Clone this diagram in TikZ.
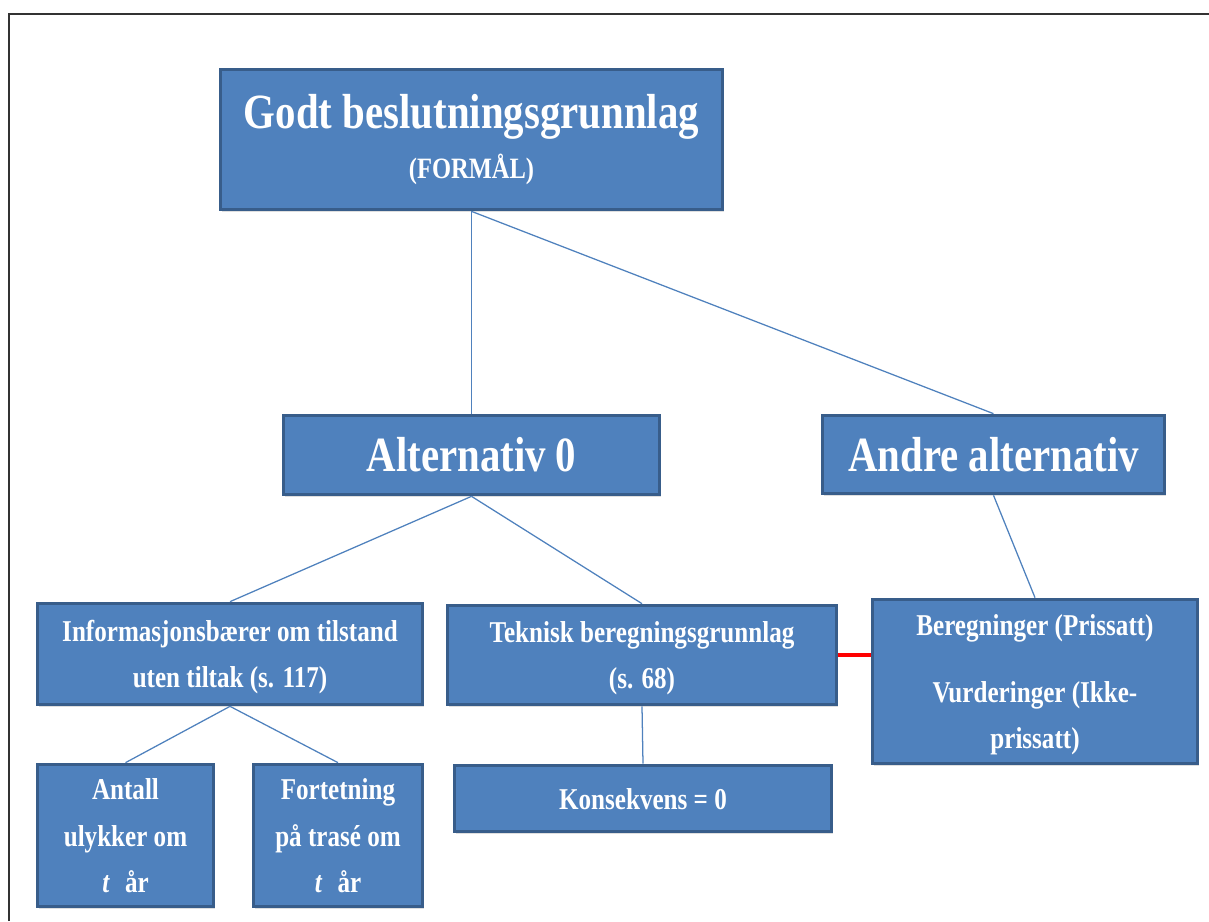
\documentclass[tikz,border=0pt]{standalone}
\usepackage{fontspec}
\setmainfont{Liberation Serif}[FakeStretch=0.83]
\usetikzlibrary{positioning,shadows}
\definecolor{boxblue}{HTML}{4F81BD}
\definecolor{boxedge}{HTML}{385D8A}

\begin{document}
\begin{tikzpicture}[x=0.025cm, y=-0.025cm,
    block/.style={rectangle, draw=boxedge, line width=2.6pt, fill=boxblue, text=white, align=center, inner sep=0pt,
        drop shadow={shadow xshift=1pt, shadow yshift=-2pt, opacity=0.25},
        font=\bfseries\fontsize{35}{42}\selectfont},
    subblock/.style={block, text depth=0pt, font=\bfseries\fontsize{21.5}{33}\selectfont},
    link/.style={draw=boxblue, line width=0.9pt},
    redlink/.style={draw=red, line width=3pt}
]
    \useasboundingbox (0,0) rectangle (1209,921);
    \draw[black!80, line width=1.3pt] (9,921) -- (9,14) -- (1209,14);

    % hovedbokser
    \node [block, minimum width=12.55cm, minimum height=3.5cm] (goal) at (471.5,139.5)
        {Godt beslutningsgrunnlag\\[-6pt]{\fontsize{21}{25}\selectfont (FORMÅL)}};
    \node [block, minimum width=9.4cm, minimum height=1.975cm] (alt0) at (471.5,455) {Alternativ 0};
    \node [block, minimum width=8.55cm, minimum height=1.95cm] (other) at (993.5,454.5) {Andre alternativ};

    % underbokser
    \node [subblock, minimum width=9.625cm, minimum height=2.525cm] (info) at (230,654)
        {Informasjonsbærer om tilstand\\uten tiltak (s. 117)};
    \node [subblock, minimum width=9.725cm, minimum height=2.475cm] (tech) at (642,655)
        {Teknisk beregningsgrunnlag\\(s. 68)};
    \node [subblock, minimum width=8.125cm, minimum height=4.1cm] (calc) at (1035,681.5)
        {Beregninger (Prissatt)\\[15pt]Vurderinger (Ikke-\\prissatt)};
    \node [subblock, minimum width=4.4cm, minimum height=3.55cm] (accidents) at (125.5,835.5)
        {Antall\\ulykker om\\\textit{t}\enspace år};
    \node [subblock, minimum width=4.225cm, minimum height=3.55cm] (density) at (338,835.5)
        {Fortetning\\på trasé om\\\textit{t}\enspace år};
    \node [subblock, minimum width=9.425cm, minimum height=1.65cm] (conseq) at (643,798.5) {Konsekvens = 0};

    % linjer
    \draw [link] (goal.south) -- (alt0.north);
    \draw [link] (goal.south) -- (other.north);
    \draw [link] (alt0.south) -- (info.north);
    \draw [link] (alt0.south) -- (tech.north);
    \draw [link] (other.south) -- (calc.north);
    \draw [link] (info.south) -- (accidents.north);
    \draw [link] (info.south) -- (density.north);
    \draw [link] (tech.south) -- (conseq.north);
    \draw [redlink] (tech.east) -- (tech.east -| calc.west);
\end{tikzpicture}
\end{document}
